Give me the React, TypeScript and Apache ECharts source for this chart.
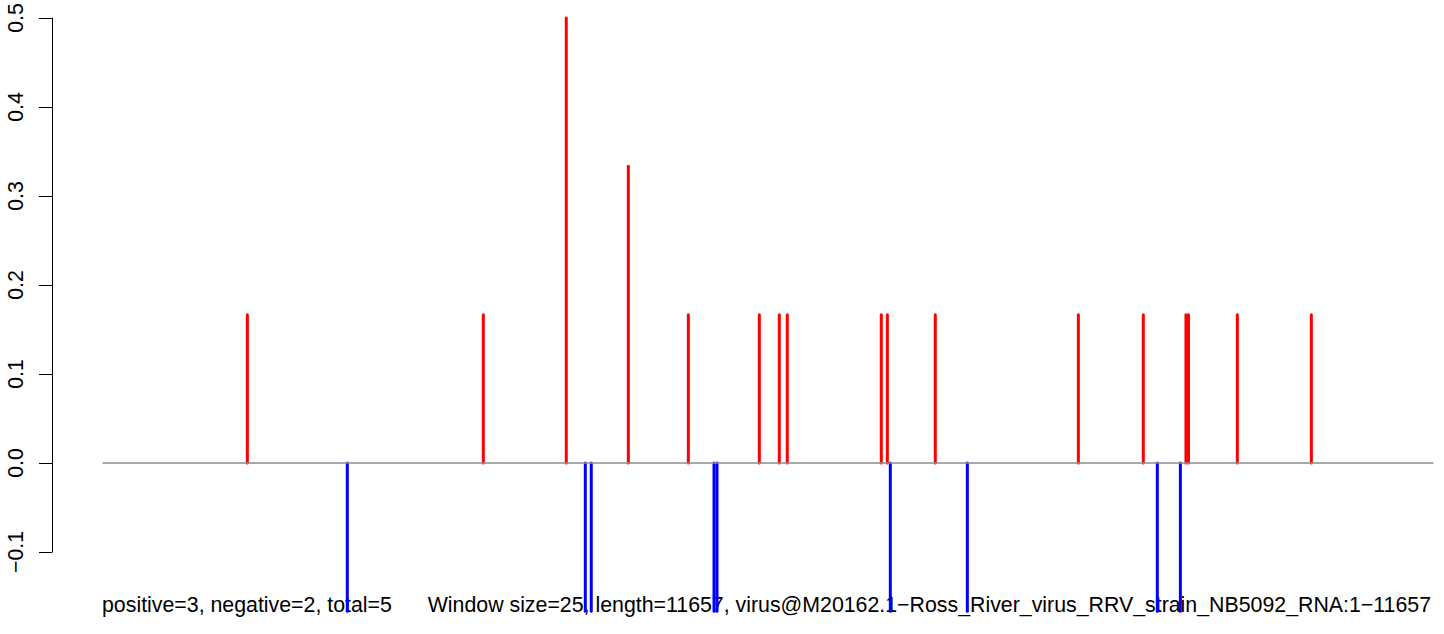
import React, { useEffect, useRef } from "react";
import * as echarts from "echarts";

// Window positions (nt) and scores
const redPositions = [1266, 3334, 4061, 4605, 5131, 5753, 5928, 5998, 6822, 6875, 7295, 8549, 9118, 9492, 9514, 9942, 10591];
const redValues = [0.1667, 0.1667, 0.5, 0.3333, 0.1667, 0.1667, 0.1667, 0.1667, 0.1667, 0.1667, 0.1667, 0.1667, 0.1667, 0.1667, 0.1667, 0.1667, 0.1667];
const bluePositions = [2142, 4228, 4280, 5356, 5382, 6901, 7576, 9241, 9443];
const blueValues = [-0.1667, -0.1667, -0.1667, -0.1667, -0.1667, -0.1667, -0.1667, -0.1667, -0.1667];

const seqStart = 1;
const seqEnd = 11657;
const yMin = -0.1;
const yMax = 0.5;
const yStep = 0.1;

const leftText = "positive=3, negative=2, total=5";
const rightText =
  "Window size=25, length=11657, virus@M20162.1\u2212Ross_River_virus_RRV_strain_NB5092_RNA:1\u221211657";

const FONT = "'Liberation Sans', Arial, Helvetica, sans-serif";
const FS = 21.33;

function makeSeries(xs: number[], vs: number[], color: string) {
  return {
    type: "custom",
    clip: false,
    z: 5,
    data: xs.map((x, i) => [x, vs[i]]),
    encode: { x: 0, y: 1 },
    renderItem: (params: any, api: any) => {
      const x = api.value(0);
      const v = api.value(1);
      const p0 = api.coord([x, 0]);
      const p1 = api.coord([x, v]);
      return {
        type: "line",
        shape: { x1: p0[0], y1: p0[1], x2: p1[0], y2: p1[1] },
        style: { stroke: color, lineWidth: 3, lineCap: "round" },
      };
    },
  };
}

export default function App() {
  const ref = useRef<HTMLDivElement>(null);

  useEffect(() => {
    document.body.style.margin = "0";
    const chart = echarts.init(ref.current!, undefined, { renderer: "svg" });
    chart.setOption({
      animation: false,
      backgroundColor: "#ffffff",
      grid: { left: 103, right: 11, top: 18, bottom: 82, containLabel: false },
      xAxis: {
        type: "value",
        min: seqStart,
        max: seqEnd,
        z: 10,
        axisLine: { show: true, onZero: true, lineStyle: { color: "#8c8c8c", width: 1.5 } },
        axisTick: { show: false },
        axisLabel: { show: false },
        splitLine: { show: false },
      },
      yAxis: {
        type: "value",
        min: yMin,
        max: yMax,
        interval: yStep,
        offset: 51,
        axisLine: { show: true, onZero: false, lineStyle: { color: "#000", width: 1 } },
        axisTick: { show: true, length: 13, lineStyle: { color: "#000", width: 1 } },
        axisLabel: {
          rotate: 90,
          margin: 26,
          fontSize: FS,
          fontFamily: FONT,
          color: "#000",
          formatter: (v: number) => v.toFixed(1).replace("-", "\u2212"),
        },
        splitLine: { show: false },
      },
      graphic: [
        {
          type: "text",
          left: 102,
          top: 594,
          z: 0,
          style: { text: leftText, font: `${FS}px ${FONT}`, fill: "#000" },
        },
        {
          type: "text",
          right: 13,
          top: 594,
          z: 0,
          style: { text: rightText, font: `${FS}px ${FONT}`, fill: "#000" },
        },
      ],
      series: [makeSeries(redPositions, redValues, "#ff0000"), makeSeries(bluePositions, blueValues, "#0000ff")],
    });
    return () => chart.dispose();
  }, []);

  return <div ref={ref} style={{ position: "fixed", left: 0, top: 0, width: 1444, height: 634 }} />;
}
